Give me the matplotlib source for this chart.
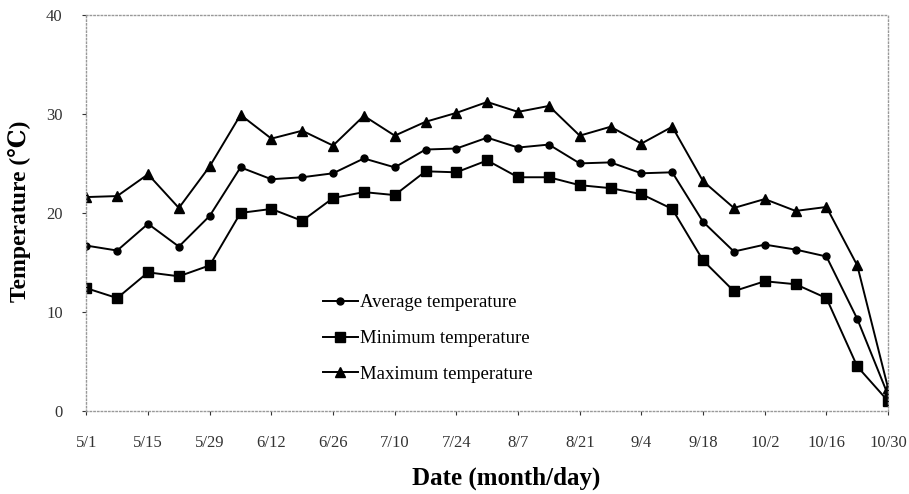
import matplotlib.pyplot as plt

dates = ["5/1", "5/8", "5/15", "5/22", "5/29", "6/5", "6/12", "6/19", "6/26",
         "7/3", "7/10", "7/17", "7/24", "7/31", "8/7", "8/14", "8/21", "8/28",
         "9/4", "9/11", "9/18", "9/25", "10/2", "10/9", "10/16", "10/23", "10/30"]

avg_temp = [16.7, 16.2, 18.9, 16.6, 19.7, 24.6, 23.4, 23.6, 24.0,
            25.5, 24.6, 26.4, 26.5, 27.6, 26.6, 26.9, 25.0, 25.1,
            24.0, 24.1, 19.1, 16.1, 16.8, 16.3, 15.6, 9.3, 1.6]
min_temp = [12.4, 11.4, 14.0, 13.6, 14.7, 20.0, 20.4, 19.2, 21.5,
            22.1, 21.8, 24.2, 24.1, 25.3, 23.6, 23.6, 22.8, 22.5,
            21.9, 20.4, 15.2, 12.1, 13.1, 12.8, 11.4, 4.5, 1.0]
max_temp = [21.6, 21.7, 23.9, 20.5, 24.7, 29.9, 27.5, 28.3, 26.8,
            29.8, 27.8, 29.2, 30.1, 31.2, 30.2, 30.8, 27.8, 28.7,
            27.0, 28.7, 23.2, 20.5, 21.4, 20.2, 20.6, 14.7, 2.3]

plt.rcParams["font.family"] = ["Liberation Serif", "DejaVu Serif", "Noto Sans CJK SC"]

fig = plt.figure(figsize=(9.09, 4.94), dpi=100)
ax = fig.add_axes([0.095, 0.168, 0.882, 0.802])

x = list(range(len(dates)))

ax.plot(x, avg_temp, color="black", lw=1.4, marker="o", ms=5,
        label="Average temperature")
ax.plot(x, min_temp, color="black", lw=1.4, marker="s", ms=7,
        label="Minimum temperature")
ax.plot(x, max_temp, color="black", lw=1.4, marker="^", ms=7,
        label="Maximum temperature")

ax.set_xlim(0, len(dates) - 1)
ax.set_ylim(0, 40)
ax.set_yticks([0, 10, 20, 30, 40])
ax.set_xticks(x[::2])
ax.set_xticklabels(dates[::2])
ax.tick_params(axis="both", labelsize=12, colors="#333333", length=3,
               direction="out")
ax.tick_params(axis="x", pad=14)
ax.tick_params(axis="y", pad=14)

for s in ax.spines.values():
    s.set_linestyle(":")
    s.set_color("#999999")
    s.set_linewidth(1)

# axis titles placed on the figure directly
fig.text(0.557, 0.032, "Date (month/day)", fontsize=18, fontweight="bold",
         ha="center", va="center")
fig.text(0.022, 0.573, "Temperature (\u2103)", fontsize=17, fontweight="bold",
         ha="center", va="center", rotation=90)

ax.legend(loc="center", bbox_to_anchor=(0.426, 0.183), frameon=False,
          fontsize=13.5, handlelength=1.85, handletextpad=0.15,
          labelspacing=0.99)

plt.savefig("out.png")
plt.close()
